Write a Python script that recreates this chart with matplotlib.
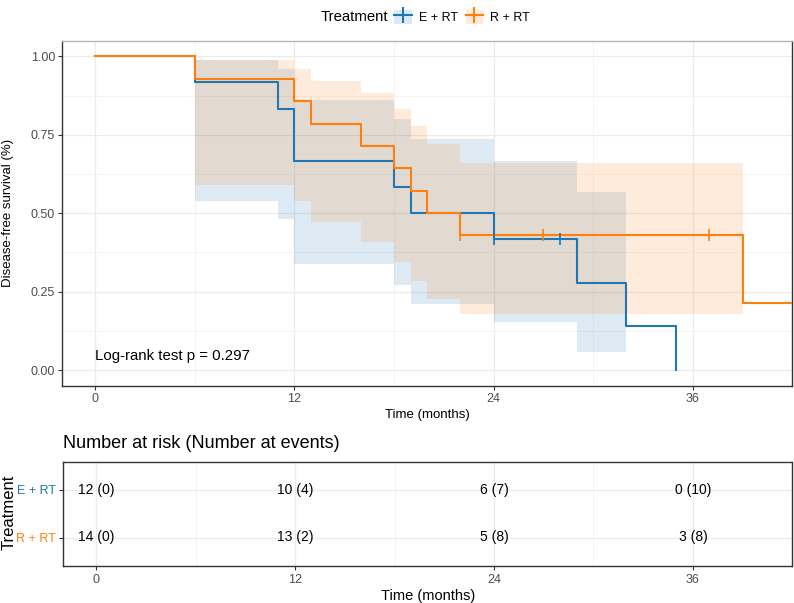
import numpy as np
import matplotlib.pyplot as plt
from matplotlib.patches import Patch
from matplotlib.lines import Line2D

plt.rcParams['font.family'] = ['Liberation Sans', 'DejaVu Sans']

groups = ["E + RT", "R + RT"]
colors = ["#1f77b4", "#ff7f0e"]

# Kaplan-Meier steps
time_e = [0, 6, 11, 12, 18, 19, 24, 29, 32, 35]
surv_e = [1.0, 0.917, 0.833, 0.667, 0.583, 0.5, 0.417, 0.278, 0.139, 0.0]
time_r = [0, 6, 12, 13, 16, 18, 19, 20, 22, 39, 42]
surv_r = [1.0, 0.929, 0.857, 0.786, 0.714, 0.643, 0.571, 0.5, 0.429, 0.214, 0.214]

# censoring times
censor_e = [24, 28]
censor_r = [22, 27, 37]

# confidence band steps
ci_time_e = [6, 11, 12, 18, 19, 24, 29, 32]
ci_low_e = [0.538, 0.482, 0.339, 0.270, 0.209, 0.153, 0.057]
ci_up_e = [0.987, 0.961, 0.860, 0.799, 0.735, 0.665, 0.567]
ci_time_r = [6, 12, 13, 16, 18, 19, 20, 22, 39]
ci_low_r = [0.589, 0.538, 0.472, 0.407, 0.343, 0.283, 0.228, 0.180]
ci_up_r = [0.987, 0.961, 0.923, 0.883, 0.831, 0.778, 0.722, 0.661]

# risk table
table_times = [0, 12, 24, 36]
at_risk_e = [12, 10, 6, 0]
events_e = [0, 4, 7, 10]
at_risk_r = [14, 13, 5, 3]
events_r = [0, 2, 8, 8]

pval_text = "Log-rank test p = 0.297"

GRID = "#EBEBEB"
DARK = "#333333"
TICKLAB = "#4D4D4D"


def step_value(times, surv, t):
    idx = np.searchsorted(times, t, side='right') - 1
    return surv[idx]


fig = plt.figure(figsize=(7.94, 6.03), dpi=100)

# ---- survival curves
ax = fig.add_axes([62 / 794, 1 - 385.7 / 603, 730.3 / 794, 345 / 603])

series = [
    (time_e, surv_e, censor_e, ci_time_e, ci_low_e, ci_up_e),
    (time_r, surv_r, censor_r, ci_time_r, ci_low_r, ci_up_r),
]
for (t, s, cens, ct, lo, up), col in zip(series, colors):
    ax.fill_between(ct, lo + [lo[-1]], up + [up[-1]], step='post',
                    color=col, alpha=0.15, linewidth=0, zorder=2)
for (t, s, cens, ct, lo, up), col in zip(series, colors):
    ax.step(t, s, where='post', color=col, lw=1.5, zorder=3)
    cy = [step_value(t, s, c) for c in cens]
    ax.plot(cens, cy, linestyle='none', marker='|', markersize=9,
            markeredgewidth=1.2, color=col, zorder=4)

ax.text(0, 0.046, pval_text, ha='left', va='center', fontsize=10.8, color='black')

ax.set_xlim(-2, 42)
ax.set_ylim(-0.05, 1.05)
ax.set_xticks(table_times)
ax.set_xticks([6, 18, 30], minor=True)
ax.set_yticks([0, 0.25, 0.5, 0.75, 1.0])
ax.set_yticks([0.125, 0.375, 0.625, 0.875], minor=True)
ax.set_yticklabels(["0.00", "0.25", "0.50", "0.75", "1.00"])
ax.grid(which='major', color=GRID, lw=0.9, zorder=0)
ax.grid(which='minor', color="#F3F3F3", lw=0.6, zorder=0)
ax.set_axisbelow(True)
ax.tick_params(which='minor', length=0)
ax.tick_params(which='major', length=3, color=DARK, labelcolor=TICKLAB,
               labelsize=9, pad=2)
for side in ['left', 'bottom', 'right']:
    ax.spines[side].set_color(DARK)
ax.spines['top'].set_color("#B5B5B5")
for sp in ax.spines.values():
    sp.set_linewidth(1.0)
ax.set_xlabel("Time (months)", fontsize=9.5, labelpad=3)
fig.text(8 / 794, 1 - 213 / 603, "Disease-free survival (%)", rotation=90,
         ha='center', va='center', fontsize=9.5)

# ---- legend on top
fig.text(321 / 794, 1 - 17 / 603, "Treatment", ha='left', va='center', fontsize=10.7)
handles = []
for col in colors:
    handles.append((Patch(facecolor=col, alpha=0.15, edgecolor='none'),
                    Line2D([], [], color=col, lw=1.5, marker='|', markersize=11,
                           markeredgewidth=1.5)))
fig.legend(handles, groups, loc='center left', bbox_to_anchor=(394 / 794, 1 - 17 / 603),
           ncol=2, frameon=False, fontsize=9, handlelength=1.4, handleheight=1.4,
           handletextpad=0.6, columnspacing=0.6, borderpad=0, borderaxespad=0)

# ---- risk table
axt = fig.add_axes([63 / 794, 1 - 566 / 603, 729.4 / 794, 104.5 / 603])
rows = [(2, at_risk_e, events_e), (1, at_risk_r, events_r)]
for (ypos, nr, ne), col in zip(rows, colors):
    for tt, n, d in zip(table_times, nr, ne):
        axt.text(tt, ypos, f"{n} ({d})", ha='center', va='center', fontsize=10, color='black')
axt.set_xlim(-2, 42)
axt.set_ylim(0.4, 2.6)
axt.set_xticks(table_times)
axt.set_xticks([6, 18, 30], minor=True)
axt.set_yticks([1, 2])
axt.set_yticklabels([groups[1], groups[0]])
for lab, col in zip(axt.get_yticklabels(), [colors[1], colors[0]]):
    lab.set_color(col)
axt.grid(which='major', color=GRID, lw=0.9, zorder=0)
axt.grid(which='minor', axis='x', color="#F3F3F3", lw=0.6, zorder=0)
axt.set_axisbelow(True)
axt.tick_params(which='minor', length=0)
axt.tick_params(axis='x', which='major', length=3, color=DARK, labelcolor=TICKLAB,
                labelsize=9, pad=3)
axt.tick_params(axis='y', which='major', length=3, color=DARK, labelsize=9, pad=2)
for sp in axt.spines.values():
    sp.set_color(DARK)
    sp.set_linewidth(1.0)
axt.set_xlabel("Time (months)", fontsize=10.5, labelpad=2)
fig.text(63 / 794, 1 - 444 / 603, "Number at risk (Number at events)",
         ha='left', va='center', fontsize=13)
fig.text(9 / 794, 1 - 512 / 603, "Treatment", rotation=90, ha='center', va='center',
         fontsize=12)

fig.savefig("out.png", dpi=100)
